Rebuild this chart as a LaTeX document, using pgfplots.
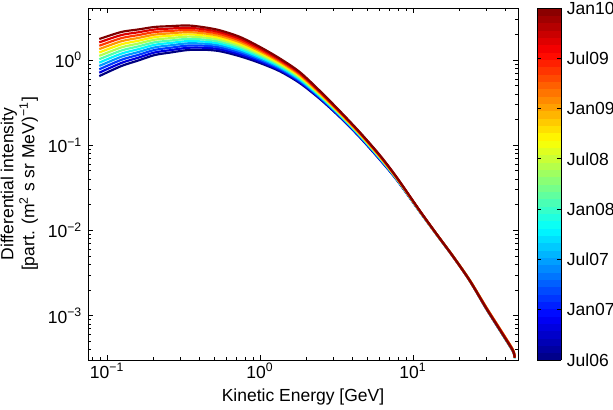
\documentclass[border=0pt]{standalone}
\usepackage{fontspec}
\setmainfont{Liberation Sans}
\usepackage{pgfplots}
\usepackage{pgfplotstable}
\pgfplotsset{compat=1.18}

\definecolor{j0}{rgb}{0,0,0.5}
\definecolor{j1}{rgb}{0,0,0.864}
\definecolor{j2}{rgb}{0,0.227,1}
\definecolor{j3}{rgb}{0,0.591,1}
\definecolor{j4}{rgb}{0,0.955,1}
\definecolor{j5}{rgb}{0.318,1,0.682}
\definecolor{j6}{rgb}{0.682,1,0.318}
\definecolor{j7}{rgb}{1,0.955,0}
\definecolor{j8}{rgb}{1,0.591,0}
\definecolor{j9}{rgb}{1,0.227,0}
\definecolor{j10}{rgb}{0.864,0,0}
\definecolor{j11}{rgb}{0.5,0,0}

\pgfplotstableread{
E c0 c1 c2 c3 c4 c5 c6 c7 c8 c9 c10 c11
0.089 0.648 0.710 0.778 0.852 0.933 1.022 1.119 1.226 1.343 1.471 1.612 1.765
0.124 0.850 0.924 1.005 1.093 1.188 1.292 1.405 1.527 1.660 1.805 1.963 2.134
0.16 0.987 1.065 1.149 1.240 1.339 1.445 1.559 1.683 1.816 1.961 2.116 2.284
0.205 1.145 1.227 1.314 1.408 1.509 1.616 1.732 1.856 1.988 2.130 2.282 2.445
0.26 1.225 1.307 1.394 1.488 1.587 1.693 1.807 1.928 2.057 2.194 2.341 2.498
0.338 1.311 1.393 1.479 1.571 1.669 1.773 1.883 2.000 2.124 2.257 2.397 2.546
0.44 1.318 1.392 1.471 1.554 1.641 1.734 1.832 1.935 2.044 2.160 2.281 2.410
0.55 1.266 1.333 1.403 1.477 1.554 1.636 1.722 1.813 1.908 2.008 2.114 2.225
0.74 1.106 1.160 1.216 1.276 1.338 1.403 1.471 1.543 1.618 1.697 1.780 1.866
1.0 0.922 0.959 0.998 1.038 1.080 1.123 1.168 1.215 1.264 1.315 1.368 1.423
1.35 0.736 0.760 0.784 0.809 0.835 0.862 0.889 0.918 0.947 0.977 1.009 1.041
1.82 0.536 0.551 0.566 0.581 0.597 0.614 0.631 0.648 0.666 0.684 0.703 0.722
2.47 0.348 0.355 0.362 0.369 0.376 0.384 0.391 0.399 0.407 0.415 0.424 0.432
3.33 0.2135 0.2167 0.2199 0.2232 0.2265 0.2299 0.2333 0.2368 0.2403 0.2439 0.2475 0.2512
4.49 0.1242 0.1257 0.1273 0.1289 0.1305 0.1321 0.1337 0.1354 0.1371 0.1388 0.1405 0.1422
6.08 0.0675 0.0683 0.0690 0.0698 0.0706 0.0713 0.0721 0.0729 0.0737 0.0746 0.0754 0.0762
7.83 0.03927 0.03951 0.03976 0.04000 0.04025 0.04050 0.04075 0.04100 0.04125 0.04151 0.04176 0.04202
11.1 0.01651 0.01655 0.01659 0.01663 0.01667 0.01671 0.01675 0.01679 0.01683 0.01688 0.01692 0.01696
14.3 0.00890 0.00891 0.00893 0.00894 0.00895 0.00896 0.00897 0.00898 0.00899 0.00900 0.00901 0.00902
18.3 0.00490 0.00492 0.00495 0.00491 0.00496 0.00493 0.00497 0.00494 0.00498 0.00492 0.00496 0.00494
23.5 0.00256 0.00259 0.00257 0.00260 0.00255 0.00258 0.00261 0.00257 0.00262 0.00256 0.00259 0.00258
30.2 0.00120 0.00122 0.00119 0.00123 0.00121 0.00124 0.00120 0.00122 0.00125 0.00121 0.00123 0.00121
38.7 0.000590 0.000600 0.000595 0.000610 0.000592 0.000605 0.000615 0.000598 0.000620 0.000602 0.000612 0.000598
45.0 0.000380 0.000392 0.000385 0.000395 0.000383 0.000390 0.000398 0.000386 0.000400 0.000388 0.000394 0.000387
46.2 0.000318 0.000324 0.000320 0.000326 0.000316 0.000322 0.000328 0.000319 0.000330 0.000321 0.000325 0.000321
}\spectra

\begin{document}
\begin{tikzpicture}
\path[use as bounding box] (-52.8pt,-30pt) rectangle (315pt,216pt);
\begin{axis}[
  at={(0,0)}, anchor=south west,
  scale only axis, width=258pt, height=211.2pt,
  xmode=log, ymode=log,
  xmin=0.0751, xmax=48.56, ymin=3.02e-4, ymax=4.08,
  xtick={0.1,1,10},
  xticklabels={10\textsuperscript{−1},10\textsuperscript{0},10\textsuperscript{1}},
  ytick={0.001,0.01,0.1,1},
  yticklabels={10\textsuperscript{−3},10\textsuperscript{−2},10\textsuperscript{−1},10\textsuperscript{0}},
  minor xtick={0.08,0.09,0.2,0.3,0.4,0.5,0.6,0.7,0.8,0.9,2,3,4,5,6,7,8,9,20,30,40},
  minor ytick={0.0004,0.0005,0.0006,0.0007,0.0008,0.0009,0.002,0.003,0.004,0.005,0.006,0.007,0.008,0.009,0.02,0.03,0.04,0.05,0.06,0.07,0.08,0.09,0.2,0.3,0.4,0.5,0.6,0.7,0.8,0.9,2,3,4},
  tick align=inside, major tick length=3pt, minor tick length=1.8pt,
  tick style={black, line width=0.5pt},
  axis line style={line width=0.5pt},
  tick label style={font=\fontsize{10.5}{12.6}\selectfont},
  xticklabel style={yshift=1.5pt},
  label style={font=\fontsize{10.5}{12.6}\selectfont},
  xlabel={Kinetic Energy [GeV]},
  xlabel style={yshift=1pt},
  ylabel={Differential intensity\\{[}part. (m\textsuperscript{2} s sr MeV)\textsuperscript{−1}{]}},
  ylabel style={align=center, yshift=-1pt},
  colormap/jet,
  point meta min=0, point meta max=42,
  colorbar sampled,
  colorbar style={
    at={(parent axis.north east)}, anchor=north west, xshift=2.9pt,
    scale only axis, width=14.4pt,
    samples=49,
    ytick={0,6,12,18,24,30,36,42},
    yticklabels={Jul06,Jan07,Jul07,Jan08,Jul08,Jan09,Jul09,Jan10},
    yticklabel pos=right, ytick pos=both,
    tick align=inside, major tick length=2.4pt,
    tick style={black, line width=0.5pt},
    axis line style={line width=0.5pt},
    tick label style={font=\fontsize{10.5}{12.6}\selectfont},
  },
  every axis plot/.append style={line width=1.3pt, smooth, tension=0.5},
]
\addplot[j0] table[x=E,y=c0]{\spectra};
\addplot[j1] table[x=E,y=c1]{\spectra};
\addplot[j2] table[x=E,y=c2]{\spectra};
\addplot[j3] table[x=E,y=c3]{\spectra};
\addplot[j4] table[x=E,y=c4]{\spectra};
\addplot[j5] table[x=E,y=c5]{\spectra};
\addplot[j6] table[x=E,y=c6]{\spectra};
\addplot[j7] table[x=E,y=c7]{\spectra};
\addplot[j8] table[x=E,y=c8]{\spectra};
\addplot[j9] table[x=E,y=c9]{\spectra};
\addplot[j10] table[x=E,y=c10]{\spectra};
\addplot[j11] table[x=E,y=c11]{\spectra};
\end{axis}
\end{tikzpicture}
\end{document}
